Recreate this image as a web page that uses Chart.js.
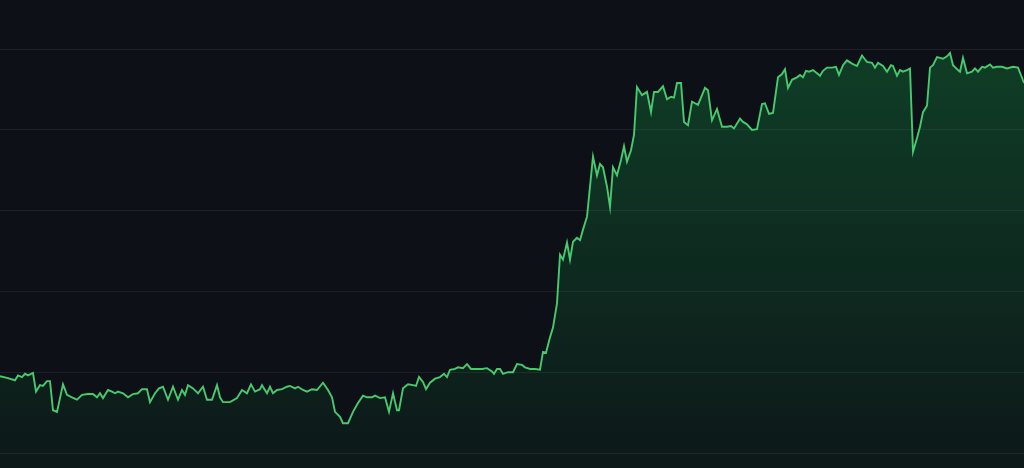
<!DOCTYPE html>
<html>
<head>
<meta charset="utf-8">
<script src="https://cdn.jsdelivr.net/npm/chart.js@4.4.1/dist/chart.umd.min.js"></script>
<style>
  html, body { margin: 0; padding: 0; background: #0d1117; }
  #wrap { width: 1024px; height: 468px; position: relative; }
</style>
</head>
<body>
<div id="wrap"><canvas id="priceChart"></canvas></div>
<script>
// time index (horizontal) and value
const times = [
  0, 7, 15, 18, 22, 25, 28, 33, 36, 40, 43, 47, 50, 53, 57, 60, 63, 67, 72, 77,
  82, 88, 93, 97, 100, 103, 108, 112, 115, 118, 123, 128, 133, 138, 142, 147, 150, 155, 159, 163,
  168, 173, 178, 182, 185, 188, 193, 198, 203, 207, 212, 217, 220, 223, 230, 237, 242, 247, 251, 255,
  260, 262, 267, 270, 273, 277, 282, 287, 290, 295, 298, 303, 307, 312, 317, 323, 328, 332, 335, 340,
  343, 348, 353, 358, 363, 367, 372, 375, 380, 385, 389, 393, 397, 399, 403, 408, 413, 416, 419, 423,
  426, 430, 435, 440, 444, 447, 450, 455, 458, 463, 467, 471, 477, 482, 487, 492, 494, 497, 500, 503,
  508, 513, 517, 522, 525, 530, 535, 540, 543, 546, 550, 553, 557, 560, 563, 567, 570, 573, 577, 580,
  583, 587, 590, 593, 597, 600, 603, 607, 610, 613, 617, 621, 624, 627, 631, 634, 637, 642, 647, 651,
  654, 658, 663, 667, 671, 674, 677, 681, 684, 688, 692, 695, 698, 705, 708, 712, 717, 722, 727, 731,
  734, 740, 743, 747, 752, 757, 762, 765, 769, 773, 778, 782, 785, 788, 792, 797, 800, 803, 806, 809,
  813, 817, 820, 823, 827, 832, 836, 839, 843, 847, 852, 857, 862, 865, 867, 872, 875, 878, 883, 887,
  891, 893, 897, 900, 903, 907, 910, 913, 917, 920, 923, 927, 930, 933, 937, 940, 943, 947, 950, 953,
  958, 960, 963, 967, 972, 975, 978, 982, 985, 990, 993, 997, 1002, 1007, 1013, 1018, 1024
];
const values = [
  96, 94, 91, 97, 95, 99, 97, 100, 77, 85, 84, 90, 90, 54, 52, 69, 86, 73, 70, 67,
  73, 74, 74, 70, 75, 69, 79, 77, 75, 77, 75, 70, 74, 75, 80, 80, 64, 75, 81, 83,
  67, 83, 67, 79, 73, 85, 81, 75, 83, 67, 67, 85, 70, 64, 64, 69, 79, 75, 86, 77,
  80, 85, 75, 83, 75, 79, 80, 83, 84, 81, 83, 79, 77, 80, 79, 88, 79, 70, 52, 46,
  38, 38, 52, 63, 72, 70, 70, 72, 69, 70, 52, 75, 54, 54, 81, 86, 85, 84, 95, 89,
  80, 88, 93, 95, 99, 95, 104, 105, 107, 106, 111, 105, 105, 105, 106, 102, 99, 105, 105, 99,
  101, 101, 111, 110, 107, 105, 105, 104, 126, 125, 144, 156, 186, 246, 240, 261, 240, 262, 267, 264,
  277, 293, 330, 367, 344, 358, 354, 330, 305, 354, 344, 363, 380, 361, 375, 394, 453, 443, 447, 422,
  447, 447, 454, 438, 441, 440, 458, 458, 410, 406, 435, 433, 431, 452, 449, 412, 426, 404, 404, 405,
  402, 414, 410, 407, 400, 401, 432, 433, 420, 421, 465, 469, 475, 452, 462, 465, 468, 465, 473, 472,
  474, 470, 467, 473, 477, 477, 478, 468, 480, 486, 482, 479, 492, 487, 484, 483, 477, 483, 479, 472,
  480, 479, 467, 474, 472, 474, 476, 373, 390, 404, 422, 430, 477, 480, 490, 489, 488, 491, 495, 480,
  474, 472, 489, 470, 472, 476, 472, 478, 477, 481, 477, 478, 478, 476, 478, 477, 458
];
const gridValues = [0, 100, 200, 300, 400, 500];

const points = times.map((t, i) => ({ x: t, y: values[i] }));

const ctx = document.getElementById('priceChart').getContext('2d');
new Chart(ctx, {
  type: 'line',
  data: {
    datasets: [{
      data: points,
      borderColor: '#48c96e',
      borderWidth: 1.9,
      pointRadius: 0,
      tension: 0,
      fill: 'start',
      backgroundColor: (context) => {
        const area = context.chart.chartArea;
        if (!area) return 'rgba(22, 163, 74, 0.2)';
        const g = context.chart.ctx.createLinearGradient(0, area.top, 0, area.bottom);
        g.addColorStop(0, 'rgba(22, 163, 74, 0.34)');
        g.addColorStop(1, 'rgba(22, 163, 74, 0.05)');
        return g;
      }
    }]
  },
  options: {
    responsive: true,
    maintainAspectRatio: false,
    animation: false,
    layout: { padding: 0 },
    plugins: {
      legend: { display: false },
      tooltip: { enabled: false }
    },
    scales: {
      x: {
        type: 'linear',
        display: false,
        min: 0,
        max: 1024
      },
      y: {
        min: -17.3,
        max: 560.5,
        afterBuildTicks: (scale) => {
          scale.ticks = gridValues.map(v => ({ value: v }));
        },
        ticks: { display: false },
        border: { display: false },
        grid: {
          color: 'rgba(240, 246, 252, 0.07)',
          lineWidth: 1,
          drawTicks: false
        }
      }
    }
  }
});
</script>
</body>
</html>
